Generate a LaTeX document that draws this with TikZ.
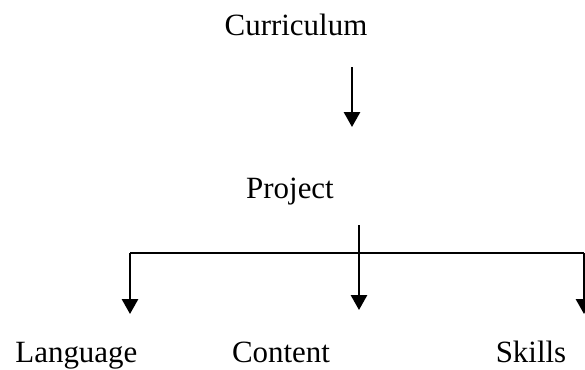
\documentclass[tikz,border=0pt]{standalone}
\usepackage{fontspec}
\setmainfont{Liberation Serif}
\usetikzlibrary{arrows.meta}

\begin{document}
\begin{tikzpicture}[line width=0.055cm, font=\fontsize{22}{26}\selectfont,
	lbl/.style={anchor=base, inner sep=0pt},
	tip/.style={-{Triangle[length=0.37cm, width=0.4cm]}}]
	\useasboundingbox (0,0) rectangle (14.625,-9.225);
	\node [lbl] (curriculum) at (7.4,-0.875) {Curriculum};
	\node [lbl] (project) at (7.25,-4.95) {Project};
	\node [lbl] (language) at (1.91,-9.05) {Language};
	\node [lbl] (content) at (7.025,-9.05) {Content};
	\node [lbl] (skills) at (13.275,-9.05) {Skills};
	\coordinate (a1) at (8.8,-1.675);
	\coordinate (a2) at (8.8,-3.175);
	\coordinate (b1) at (8.975,-5.625);
	\coordinate (b2) at (8.975,-7.75);
	\coordinate (l1) at (3.25,-6.325);
	\coordinate (l2) at (3.25,-7.85);
	\coordinate (r1) at (14.6,-6.325);
	\coordinate (r2) at (14.6,-7.85);
	\draw [tip] (a1) -- (a2);
	\draw [tip] (b1) -- (b2);
	\draw (l1) -- (r1);
	\draw [tip] (l1) -- (l2);
	\draw [tip] (r1) -- (r2);
\end{tikzpicture}
\end{document}
